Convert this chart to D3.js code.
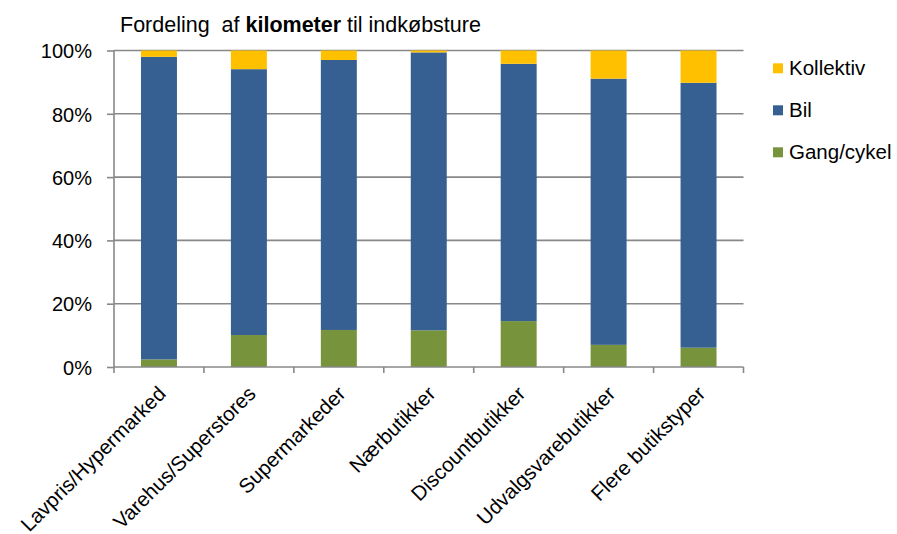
<!DOCTYPE html>
<html>
<head>
<meta charset="utf-8">
<script src="https://cdn.jsdelivr.net/npm/d3@7"></script>
<style>
  html, body { margin: 0; padding: 0; background: #fff; }
  svg { display: block; font-family: Arial, "Liberation Sans", sans-serif; }
</style>
</head>
<body>
<svg id="chart" width="897" height="534"></svg>
<script>
// Share of kilometres per shopping trip, by store type (percent)
const categories = ["Lavpris/Hypermarked", "Varehus/Superstores", "Supermarkeder", "Nærbutikker",
                    "Discountbutikker", "Udvalgsvarebutikker", "Flere butikstyper"];
const gangCykel = [2.4, 10.1, 11.7, 11.6, 14.5, 7.0, 6.1];
const bil       = [95.6, 84.0, 85.3, 87.8, 81.3, 84.1, 83.7];
const kollektiv = [2.0, 5.9, 3.0, 0.6, 4.2, 8.9, 10.2];
const seriesNames = ["Gang/cykel", "Bil", "Kollektiv"];
const yTicks = [0, 20, 40, 60, 80, 100];

const colors = { "Gang/cykel": "#77933C", "Bil": "#366092", "Kollektiv": "#FFC000" };

const rows = categories.map((c, i) => ({
  cat: c, "Gang/cykel": gangCykel[i], "Bil": bil[i], "Kollektiv": kollektiv[i]
}));
const stacked = d3.stack().keys(seriesNames)(rows);

const svg = d3.select("#chart");
const plotLeft = 114, plotRight = 743.5, plotTop = 50.5, plotBottom = 367;

const x = d3.scaleBand().domain(categories).range([plotLeft, plotRight]).paddingInner(0.6).paddingOuter(0.3);
const y = d3.scaleLinear().domain([0, 100]).range([plotBottom, plotTop]);

// horizontal gridlines
svg.append("g").selectAll("line").data(yTicks.filter(t => t > 0)).join("line")
  .attr("x1", plotLeft).attr("x2", plotRight)
  .attr("y1", d => y(d)).attr("y2", d => y(d))
  .attr("stroke", "#888888").attr("stroke-width", 1.6);

// stacked bars
svg.append("g").selectAll("g").data(stacked).join("g")
  .attr("fill", d => colors[d.key])
  .selectAll("rect").data(d => d).join("rect")
  .attr("x", d => x(d.data.cat))
  .attr("width", x.bandwidth())
  .attr("y", d => y(d[1]))
  .attr("height", d => y(d[0]) - y(d[1]));

// y axis
const yAxis = d3.axisLeft(y).tickValues(yTicks).tickFormat(d => d + "%").tickSize(7).tickPadding(15);
const gy = svg.append("g").attr("transform", `translate(${plotLeft},0)`).call(yAxis);
gy.select(".domain").attr("stroke", "#888888").attr("stroke-width", 1.6).attr("d", `M0,${plotTop}V${plotBottom}`);
gy.selectAll(".tick line").attr("stroke", "#888888").attr("stroke-width", 1.6);
gy.selectAll(".tick text").attr("font-size", 20).attr("fill", "#000").attr("dy", "0.36em")
  .attr("font-family", "Arial, 'Liberation Sans', sans-serif");

// x axis with boundary ticks between categories
const gx = svg.append("g");
gx.append("line").attr("x1", plotLeft).attr("x2", plotRight).attr("y1", plotBottom).attr("y2", plotBottom)
  .attr("stroke", "#888888").attr("stroke-width", 1.6);
gx.selectAll("line.tk").data(d3.range(categories.length + 1)).join("line")
  .attr("class", "tk")
  .attr("x1", i => plotLeft + i * x.step()).attr("x2", i => plotLeft + i * x.step())
  .attr("y1", plotBottom).attr("y2", plotBottom + 6)
  .attr("stroke", "#888888").attr("stroke-width", 1.6);

gx.selectAll("text").data(categories).join("text")
  .attr("transform", d => `translate(${x(d) + x.bandwidth() / 2 + 8},${plotBottom + 28}) rotate(-45)`)
  .attr("text-anchor", "end")
  .attr("font-size", 20.5)
  .attr("fill", "#000")
  .text(d => d);

// title
const title = svg.append("text").attr("x", 120).attr("y", 31.5).attr("font-size", 21.5).attr("fill", "#000");
title.append("tspan").text("Fordeling\u00a0\u00a0af ");
title.append("tspan").attr("font-weight", "bold").text("kilometer");
title.append("tspan").text(" til indkøbsture");

// legend
const legendOrder = ["Kollektiv", "Bil", "Gang/cykel"];
const lg = svg.append("g").selectAll("g").data(legendOrder).join("g")
  .attr("transform", (d, i) => `translate(773,${63.3 + i * 42})`);
lg.append("rect").attr("width", 10).attr("height", 10).attr("fill", d => colors[d]);
lg.append("text").attr("x", 16).attr("y", 11.5).attr("font-size", 20.5).attr("fill", "#000").text(d => d);
</script>
</body>
</html>
